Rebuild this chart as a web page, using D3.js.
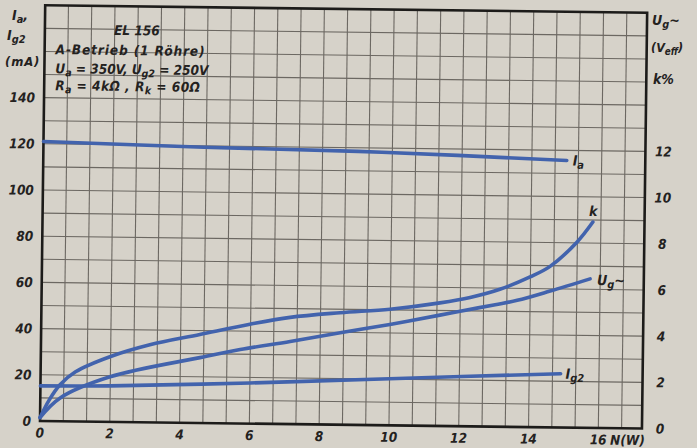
<!DOCTYPE html>
<html>
<head>
<meta charset="utf-8">
<script src="https://cdn.jsdelivr.net/npm/d3@7"></script>
<style>
  html, body { margin: 0; padding: 0; background: #d6d2c9; }
  svg { display: block; }
  text { font-family: "DejaVu Sans Condensed", "Liberation Sans", sans-serif; font-style: italic; font-weight: bold; fill: #24221f; }
</style>
</head>
<body>
<svg id="chart" width="697" height="448"></svg>
<script>
// EL 156 single-ended class A operating characteristics versus output power N (W)

// output power axis (W)
const xTicks = [0, 2, 4, 6, 8, 10, 12, 14, 16];
// left axis: anode / screen current (mA)
const leftTicks = [0, 20, 40, 60, 80, 100, 120, 140];
// right axis: grid drive voltage (V eff) and distortion k (%)
const rightTicks = [0, 2, 4, 6, 8, 10, 12];

// anode current Ia (mA)
const iaPower = [0, 4.6, 9.7, 15.0];
const iaValues = [121, 119.4, 118.2, 115.6];

// screen-grid current Ig2 (mA)
const ig2Power = [0, 2, 6, 10, 14.9];
const ig2Values = [15.2, 15.6, 17.6, 20.2, 23.3];

// distortion factor k (%)
const kPower = [0, 0.25, 0.56, 1.0, 1.98, 3.12, 4.55, 5.98, 7.13, 8.56, 9.99, 11.42, 12.28, 13.13, 13.99, 14.56, 15.32, 15.77];
const kValues = [0.15, 0.9, 1.58, 2.15, 2.82, 3.36, 3.83, 4.3, 4.62, 4.85, 5.03, 5.33, 5.58, 5.95, 6.5, 6.97, 8.03, 8.91];

// grid drive voltage Ug~ (V eff)
const ugPower = [0, 0.56, 1.99, 4.56, 5.71, 7.14, 8.57, 9.99, 11.42, 12.0, 13.0, 13.63, 14.57, 15.71];
const ugValues = [0.15, 1.0, 1.95, 2.83, 3.2, 3.58, 3.98, 4.37, 4.8, 4.98, 5.28, 5.48, 5.9, 6.45];

const svg = d3.select("#chart");

const x = d3.scaleLinear().domain([0, 17.25]).range([40, 642]);
const y = d3.scaleLinear().domain([0, 180]).range([421, 5.2]);
const yRight = d3.scaleLinear().domain([0, 18]).range([421, 5.2]);

// the printed sheet sits slightly skewed
const g = svg.append("g").attr("transform", "rotate(0.716, 40, 421)");

// millimetre-style grid: 2/3 W by 10 mA
const gridX = d3.range(0, 26).map(i => i * 2 / 3).filter(v => v > 0 && v < 17.25);
const gridY = d3.range(10, 180, 10);

g.append("g").selectAll("line").data(gridX).join("line")
  .attr("x1", d => x(d)).attr("x2", d => x(d))
  .attr("y1", y(0)).attr("y2", y(180))
  .attr("stroke", "#6c6862").attr("stroke-width", 1.1);

g.append("g").selectAll("line").data(gridY).join("line")
  .attr("x1", x(0)).attr("x2", x(17.25))
  .attr("y1", d => y(d)).attr("y2", d => y(d))
  .attr("stroke", "#6c6862").attr("stroke-width", 1.1);

// frame
g.append("rect")
  .attr("x", x(0)).attr("y", y(180))
  .attr("width", x(17.25) - x(0)).attr("height", y(0) - y(180))
  .attr("fill", "none").attr("stroke", "#1d1c1a").attr("stroke-width", 2.6);

// tick labels
g.append("g").selectAll("text").data(leftTicks).join("text")
  .attr("x", 31).attr("y", d => y(d)).attr("dy", "0.36em")
  .attr("text-anchor", "end").attr("font-size", 13.5)
  .text(d => d);

g.append("g").selectAll("text").data(rightTicks).join("text")
  .attr("x", 660).attr("y", d => yRight(d)).attr("dy", "0.36em")
  .attr("text-anchor", "middle").attr("font-size", 13.5)
  .text(d => d);

g.append("g").selectAll("text").data(xTicks).join("text")
  .attr("x", d => x(d)).attr("y", 437.5)
  .attr("text-anchor", "middle").attr("font-size", 13.5)
  .text(d => d);

g.append("text").attr("x", x(16) + 12).attr("y", 437.5)
  .attr("font-size", 13.5).text("N(W)");

// rich text helper: parts = [{t, sub}]
function rich(sel, parts, size) {
  let shift = 0;
  parts.forEach(p => {
    const target = p.sub ? size * 0.22 : 0;
    const ts = sel.append("tspan").text(p.t);
    if (p.sub) ts.attr("font-size", size * 0.78);
    if (target !== shift) { ts.attr("dy", target - shift); shift = target; }
  });
  return sel;
}

// heading block inside the grid
const hs = 13.5;
g.append("text").attr("x", 132).attr("y", 34).attr("text-anchor", "middle")
  .attr("font-size", hs).text("EL 156");
g.append("text").attr("x", 51).attr("y", 54).attr("font-size", hs)
  .attr("letter-spacing", 0.9).text("A-Betrieb (1 Röhre)");
rich(g.append("text").attr("x", 51).attr("y", 73).attr("font-size", hs),
  [{t: "U"}, {t: "a", sub: true}, {t: " = 350V, U"}, {t: "g2", sub: true}, {t: " = 250V"}], hs);
rich(g.append("text").attr("x", 51).attr("y", 90).attr("font-size", hs)
  .attr("letter-spacing", 0.5),
  [{t: "R"}, {t: "a", sub: true}, {t: " = 4kΩ , R"}, {t: "k", sub: true}, {t: " = 60Ω"}], hs);

// curves
const line = (px, vals, sc) => d3.line()
  .x((d, i) => x(px[i]))
  .y(d => sc(d))
  .curve(d3.curveCatmullRom.alpha(0.5))(vals);

const blue = "#4263ad";
const curves = [
  { px: iaPower, vals: iaValues, sc: y },
  { px: ig2Power, vals: ig2Values, sc: y },
  { px: kPower, vals: kValues, sc: yRight },
  { px: ugPower, vals: ugValues, sc: yRight }
];
g.append("g").selectAll("path").data(curves).join("path")
  .attr("d", c => line(c.px, c.vals, c.sc))
  .attr("fill", "none").attr("stroke", blue)
  .attr("stroke-width", 3.6).attr("stroke-linecap", "round");

// curve labels at the line ends
const ls = 14;
function endOf(px, vals, sc) {
  const i = px.length - 1;
  return [x(px[i]), sc(vals[i])];
}
let e = endOf(iaPower, iaValues, y);
rich(g.append("text").attr("x", e[0] + 6).attr("y", e[1] + 5).attr("font-size", ls),
  [{t: "I"}, {t: "a", sub: true}], ls);
e = endOf(ig2Power, ig2Values, y);
rich(g.append("text").attr("x", e[0] + 5).attr("y", e[1] + 5).attr("font-size", ls),
  [{t: "I"}, {t: "g2", sub: true}], ls);
e = endOf(kPower, kValues, yRight);
g.append("text").attr("x", e[0] - 4).attr("y", e[1] - 6).attr("font-size", ls).text("k");
e = endOf(ugPower, ugValues, yRight);
rich(g.append("text").attr("x", e[0] + 7).attr("y", e[1] + 6).attr("font-size", ls),
  [{t: "U"}, {t: "g", sub: true}, {t: "~"}], ls);

// axis titles
const ts = 14;
rich(svg.append("text").attr("x", 12).attr("y", 20).attr("font-size", ts),
  [{t: "I"}, {t: "a", sub: true}, {t: ","}], ts);
rich(svg.append("text").attr("x", 7).attr("y", 40).attr("font-size", ts),
  [{t: "I"}, {t: "g2", sub: true}], ts);
svg.append("text").attr("x", 5).attr("y", 66).attr("font-size", 13)
  .attr("letter-spacing", 0.8).text("(mA)");

rich(svg.append("text").attr("x", 652).attr("y", 25).attr("font-size", ts),
  [{t: "U"}, {t: "g", sub: true}, {t: "~"}], ts);
rich(svg.append("text").attr("x", 651).attr("y", 52).attr("font-size", 12.5),
  [{t: "(V"}, {t: "eff", sub: true}, {t: ")"}], 12.5);
svg.append("text").attr("x", 653).attr("y", 84).attr("font-size", ts).text("k%");
</script>
</body>
</html>
